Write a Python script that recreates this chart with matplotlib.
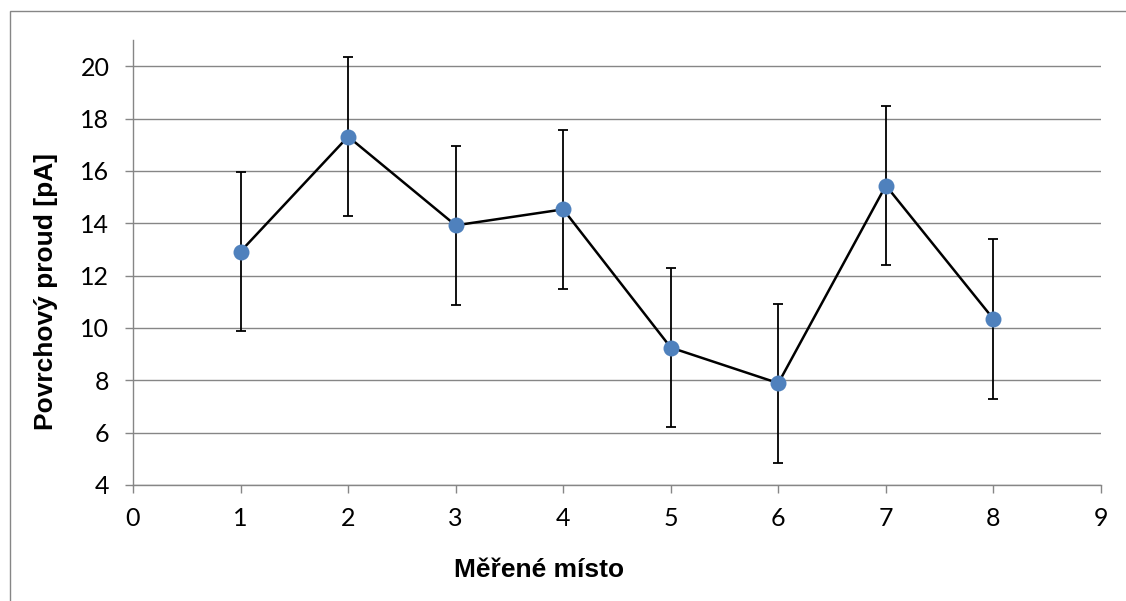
import matplotlib
matplotlib.use("Agg")
import matplotlib.pyplot as plt
from matplotlib.patches import Rectangle

sites = [1, 2, 3, 4, 5, 6, 7, 8]
current = [12.92, 17.31, 13.92, 14.53, 9.25, 7.89, 15.44, 10.34]
error = [3.04, 3.04, 3.03, 3.04, 3.04, 3.04, 3.03, 3.04]

x_ticks = list(range(0, 10))
y_ticks = list(range(4, 21, 2))

GRID = '#868686'
DOT = '#4F81BD'

fig = plt.figure(figsize=(11.26, 6.01), dpi=100)
ax = fig.add_axes([133 / 1126, 1 - 485 / 601, (1101 - 133) / 1126, (485 - 40) / 601])

# outer chart frame (runs off right and bottom edge)
fig.patches.append(Rectangle((9.5 / 1126, -0.2), 1.5, 1.2 - 10.5 / 601,
                             transform=fig.transFigure, fill=False,
                             edgecolor=GRID, linewidth=1.0))

ax.errorbar(sites, current, yerr=error, fmt='none', ecolor='black',
            elinewidth=1.3, capsize=3.9, capthick=1.3, zorder=3)
ax.plot(sites, current, '-', color='black', linewidth=1.8, zorder=4)
ax.plot(sites, current, 'o', color=DOT, markersize=11.5, markeredgewidth=0, zorder=5)

ax.set_xlim(0, 9)
ax.set_ylim(4, 21)
ax.set_xticks(x_ticks)
ax.set_yticks(y_ticks)

ax.grid(True, axis='y', color=GRID, linewidth=1.0)
ax.set_axisbelow(True)
for side in ['top', 'right']:
    ax.spines[side].set_visible(False)
for side in ['left', 'bottom']:
    ax.spines[side].set_color(GRID)
    ax.spines[side].set_linewidth(1.0)

ax.tick_params(axis='both', direction='out', length=6, width=1.0, color=GRID,
               labelsize=18, labelfontfamily='Lato')
ax.tick_params(axis='y', pad=11)
ax.tick_params(axis='x', pad=10)

ax.set_xlabel('Měřené místo', fontsize=19, fontweight='bold',
              family='Liberation Sans')
ax.set_ylabel('Povrchový proud [pA]', fontsize=19, fontweight='bold',
              family='Liberation Sans')
ax.xaxis.set_label_coords(0.419, -0.163)
ax.yaxis.set_label_coords(-0.077, 0.434)

plt.savefig('out.png', dpi=100)
